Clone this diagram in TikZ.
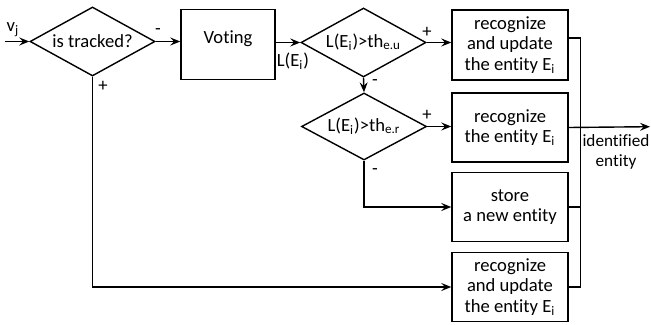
\documentclass[tikz,border=0pt]{standalone}
\usepackage{fontspec}
\setmainfont{Carlito}[Ligatures=NoCommon]
\usetikzlibrary{shapes.geometric,arrows.meta}
\begin{document}
\begin{tikzpicture}[x=0.5pt,y=-0.5pt,line width=0.7pt,
        >={Stealth[length=5pt,width=4pt,inset=1.8pt]},
        every node/.style={font=\fontsize{9.3pt}{10.3pt}\selectfont},
        decision/.style={draw,diamond,shape aspect=1.8,inner sep=0pt,minimum width=62.5pt,minimum height=34.5pt},
        stepbox/.style={draw,rectangle,align=center,inner sep=0pt,minimum width=58pt,minimum height=35pt},
        sign/.style={inner sep=1pt}]
    \useasboundingbox (0,0) rectangle (651,325);

    % decisions
    \node[decision] (tracked) at (92.5,41.5) {is tracked?};
    \node[decision] (testu) at (363.5,42.5) {L(E\textsubscript{i})>th\textsubscript{e.u}};
    \node[decision,minimum height=33.5pt] (testr) at (364,126.5) {L(E\textsubscript{i})>th\textsubscript{e.r}};

    % boxes
    \node[stepbox,minimum width=47pt] (voting) at (228,44.5) {\raisebox{7pt}{Voting}};
    \node[stepbox] (upd) at (510,45) {recognize\\and update\\the entity E\textsubscript{i}};
    \node[stepbox,minimum height=34.5pt] (rec) at (510,127.5) {recognize\\the entity E\textsubscript{i}};
    \node[stepbox,minimum height=34.5pt] (store) at (510,207) {store\\a new entity};
    \node[stepbox,minimum height=34.5pt] (upd2) at (510,287) {recognize\\and update\\the entity E\textsubscript{i}};

    % free ends
    \coordinate (vin) at (5,41.5);
    \coordinate (out) at (650,126.7);

    % main flow
    \draw[->] (vin) -- (tracked.west);
    \draw[->] (tracked.east) -- (tracked.east -| voting.west);
    \draw[->] (voting.east |- testu.west) -- (testu.west);
    \draw[->] (testu.east) -- (testu.east -| upd.west);
    \draw[->] (testu.south) -- (testr.north);
    \draw[->] (testr.east) -- (testr.east -| rec.west);
    \draw[->] (testr.south) |- (store.west);
    \draw[->] (tracked.south) |- (upd2.west);

    % collect the results
    \draw ([yshift=3.5pt]upd.east) -- ++(6pt,0) |- (upd2.east);
    \draw (store.east) -- ++(6pt,0);
    \draw[->] (rec.east) -- (out);

    % signs and labels
    \node[sign] (vj) at (13,30) {v\textsubscript{j}};
    \node[sign] (m1) at (158,32) {-};
    \node[sign] (p1) at (103,86) {+};
    \node[sign] (lei) at (293,61) {L(E\textsubscript{i})};
    \node[sign] (p2) at (427,32) {+};
    \node[sign] (m2) at (375,83) {-};
    \node[sign] (p3) at (427,115) {+};
    \node[sign] (m3) at (375,172) {-};
    \node[sign,align=center,font=\fontsize{8.6pt}{10.3pt}\selectfont] (ident) at (616,152) {identified\\entity};
\end{tikzpicture}
\end{document}
